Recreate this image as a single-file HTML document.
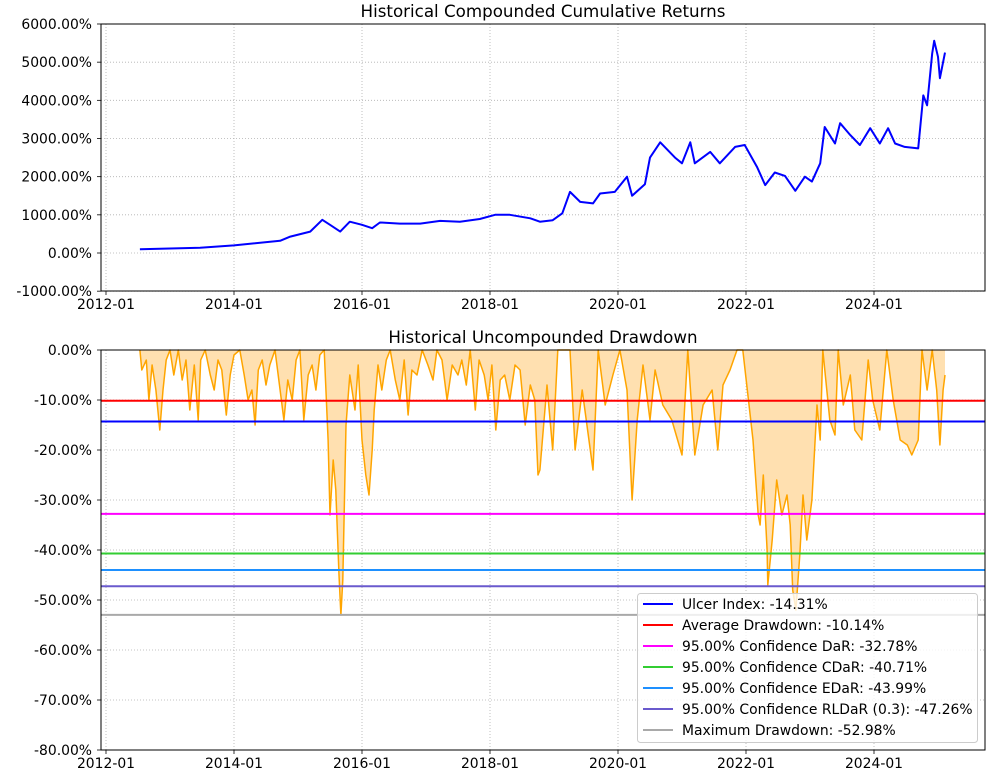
<!DOCTYPE html>
<html><head><meta charset="utf-8"><style>
html,body{margin:0;padding:0;background:#fff;}
svg{display:block;font-family:"DejaVu Sans","Liberation Sans",sans-serif;}
</style></head><body>
<svg id="chart" width="1004" height="784" viewBox="0 0 1004 784" xmlns="http://www.w3.org/2000/svg"></svg>
<script>
const cumDates=[2012.53,2013.47,2014.0,2014.72,2014.88,2015.19,2015.38,2015.5,2015.66,2015.81,2016.0,2016.16,2016.28,2016.59,2016.91,2017.22,2017.53,2017.84,2018.08,2018.31,2018.63,2018.78,2018.98,2019.13,2019.25,2019.41,2019.61,2019.72,2019.95,2020.14,2020.22,2020.42,2020.5,2020.66,2020.89,2021.0,2021.13,2021.2,2021.44,2021.59,2021.83,2021.98,2022.17,2022.3,2022.45,2022.61,2022.77,2022.92,2023.03,2023.16,2023.23,2023.39,2023.47,2023.63,2023.78,2023.94,2024.09,2024.22,2024.33,2024.48,2024.69,2024.77,2024.83,2024.91,2024.94,2025.0,2025.03,2025.11];
const cumValues=[100,140,200,320,430,560,870,740,560,820,740,650,800,770,770,840,820,890,1000,1000,910,820,860,1040,1600,1340,1300,1560,1600,2000,1500,1800,2500,2900,2500,2350,2900,2350,2650,2350,2780,2830,2260,1780,2110,2020,1630,2000,1870,2350,3300,2870,3400,3090,2830,3270,2870,3270,2870,2780,2740,4130,3870,5230,5560,5140,4580,5250];
const ddDates=[2012.53,2012.56,2012.63,2012.67,2012.72,2012.78,2012.84,2012.89,2012.94,2013.0,2013.06,2013.13,2013.19,2013.25,2013.31,2013.38,2013.44,2013.48,2013.55,2013.63,2013.69,2013.75,2013.81,2013.88,2013.94,2014.0,2014.09,2014.16,2014.22,2014.28,2014.33,2014.38,2014.44,2014.5,2014.56,2014.64,2014.72,2014.78,2014.84,2014.91,2014.97,2015.03,2015.09,2015.16,2015.22,2015.28,2015.34,2015.41,2015.47,2015.5,2015.55,2015.59,2015.64,2015.67,2015.7,2015.75,2015.81,2015.89,2015.94,2016.0,2016.06,2016.11,2016.16,2016.19,2016.25,2016.31,2016.38,2016.44,2016.52,2016.59,2016.66,2016.72,2016.78,2016.86,2016.94,2017.03,2017.11,2017.17,2017.25,2017.33,2017.41,2017.5,2017.56,2017.63,2017.69,2017.77,2017.83,2017.91,2017.97,2018.03,2018.09,2018.16,2018.23,2018.31,2018.39,2018.47,2018.55,2018.63,2018.7,2018.75,2018.78,2018.89,2018.98,2019.06,2019.25,2019.33,2019.44,2019.61,2019.69,2019.8,2019.92,2020.03,2020.14,2020.22,2020.3,2020.39,2020.5,2020.58,2020.7,2020.84,2021.0,2021.09,2021.2,2021.33,2021.47,2021.56,2021.64,2021.75,2021.86,2021.95,2022.03,2022.11,2022.19,2022.22,2022.27,2022.33,2022.34,2022.41,2022.48,2022.56,2022.64,2022.69,2022.73,2022.78,2022.84,2022.89,2022.95,2023.03,2023.11,2023.16,2023.2,2023.31,2023.39,2023.44,2023.52,2023.63,2023.7,2023.81,2023.91,2023.98,2024.09,2024.2,2024.3,2024.41,2024.52,2024.59,2024.69,2024.75,2024.83,2024.91,2024.98,2025.03,2025.08,2025.11];
const ddValues=[0,-4,-2,-10,-3,-8,-16,-8,-2,0,-5,0,-6,-2,-12,-3,-14,-2,0,-5,-8,-2,-4,-13,-5,-1,0,-5,-10,-8,-15,-4,-2,-7,-3,0,-8,-14,-6,-10,-2,0,-14,-5,-3,-8,-1,0,-18,-33,-22,-28,-45,-53,-46,-15,-5,-12,-3,-18,-25,-29,-20,-12,-3,-8,-2,0,-6,-10,-2,-13,-4,-5,0,-3,-6,0,-2,-10,-3,-5,-2,-7,0,-12,-2,-5,-10,-3,-16,-6,-5,-10,-3,-4,-15,-7,-10,-25,-24,-7,-20,0,0,-20,-8,-24,0,-11,-5,0,-8,-30,-14,-3,-14,-4,-11,-14,-21,0,-21,-11,-8,-20,-7,-4,0,0,-9,-18,-33,-35,-25,-40,-47,-38,-26,-33,-29,-35,-48,-52,-41,-29,-38,-30,-11,-18,0,-14,-17,0,-11,-5,-16,-18,-2,-10,-16,0,-10,-18,-19,-21,-18,0,-8,0,-8,-19,-8,-5];
const topTicks=[6000,5000,4000,3000,2000,1000,0,-1000];
const botTicks=[0,-10,-20,-30,-40,-50,-60,-70,-80];
const xTickYears=[2012,2014,2016,2018,2020,2022,2024];
const riskNames=["Ulcer Index","Average Drawdown","95.00% Confidence DaR","95.00% Confidence CDaR","95.00% Confidence EDaR","95.00% Confidence RLDaR (0.3)","Maximum Drawdown"];
const riskValues=[-14.31,-10.14,-32.78,-40.71,-43.99,-47.26,-52.98];
const riskColors=["#0000ff","#ff0000","#ff00ff","#32cd32","#1e90ff","#6a5acd","#a9a9a9"];

const NS="http://www.w3.org/2000/svg";
const svg=document.getElementById('chart');
function mk(tag,attrs,parent,text){const e=document.createElementNS(NS,tag);for(const k in attrs)e.setAttribute(k,attrs[k]);if(text!==undefined)e.textContent=text;(parent||svg).appendChild(e);return e;}
const L=101,R=985;
const xS=t=>106+(t-2012)*64;
const yTop=v=>253-v*0.038167;
const yBot=v=>350-v*5;
function fmt(v){return v.toFixed(2)+'%';}

function axes(top,bottom,ticks,yS,title,prefix){
  const g=mk('g',{});
  
  
  for(const yr of xTickYears){const x=xS(yr);
    const gl=mk('line',{x1:x,x2:x,y1:top,y2:bottom,stroke:'#b0b0b0','stroke-width':0.8,'stroke-dasharray':'1,2'},g);
    
    mk('line',{x1:x,x2:x,y1:bottom,y2:bottom+4,stroke:'#000','stroke-width':0.8},g);
    const t=mk('text',{x:x,y:bottom+18,'font-size':13.9,'text-anchor':'middle',fill:'#000'},g,yr+'-01');
    }
  for(const v of ticks){const y=yS(v);
    const gl=mk('line',{x1:L,x2:R,y1:y,y2:y,stroke:'#b0b0b0','stroke-width':0.8,'stroke-dasharray':'1,2'},g);
    
    mk('line',{x1:L-4,x2:L,y1:y,y2:y,stroke:'#000','stroke-width':0.8},g);
    const t=mk('text',{x:L-9,y:y+5,'font-size':13.9,'text-anchor':'end',fill:'#000'},g,fmt(v));
    }
  const tt=mk('text',{x:543,y:top-7,'font-size':16.7,'text-anchor':'middle',fill:'#000'},g,title);
  
  return g;
}
function frame(top,bottom,prefix){const f=mk('rect',{x:L,y:top,width:R-L,height:bottom-top,fill:'none',stroke:'#000','stroke-width':1});
  }

axes(24,291,topTicks,yTop,'Historical Compounded Cumulative Returns','returns');
let d='';cumDates.forEach((t,i)=>{d+=(i?'L':'M')+xS(t).toFixed(1)+','+yTop(cumValues[i]).toFixed(1);});
const cl=mk('path',{d:d,fill:'none',stroke:'#0000ff','stroke-width':2,'stroke-linejoin':'round'});


frame(24,291,'returns');

axes(350,750,botTicks,yBot,'Historical Uncompounded Drawdown','drawdown');
let pd='',ad='M'+xS(ddDates[0]).toFixed(1)+','+yBot(0);
ddDates.forEach((t,i)=>{const p=xS(t).toFixed(1)+','+yBot(ddValues[i]).toFixed(1);pd+=(i?'L':'M')+p;ad+='L'+p;});
ad+='L'+xS(ddDates[ddDates.length-1]).toFixed(1)+','+yBot(0)+'Z';
const da=mk('path',{d:ad,fill:'#ffe0b0',stroke:'none'});


const dl=mk('path',{d:pd,fill:'none',stroke:'#ffa500','stroke-width':1.5,'stroke-linejoin':'round'});


riskValues.forEach((v,i)=>{const y=yBot(v);
  const l=mk('line',{x1:L,x2:R,y1:y,y2:y,stroke:riskColors[i],'stroke-width':2});
  
  });
frame(350,750,'drawdown');

const lg=mk('g',{});


mk('rect',{x:637.5,y:593.5,width:340,height:149,rx:3,fill:'#fff','fill-opacity':0.8,stroke:'#cccccc'},lg);
riskNames.forEach((n,i)=>{const y=604+i*21;
  const e=mk('g',{},lg);
  
  
  mk('line',{x1:643,x2:673,y1:y,y2:y,stroke:riskColors[i],'stroke-width':2},e);
  mk('text',{x:682,y:y+5,'font-size':13.9,fill:'#000'},e,n+': '+fmt(riskValues[i]));});
</script>
</body></html>
